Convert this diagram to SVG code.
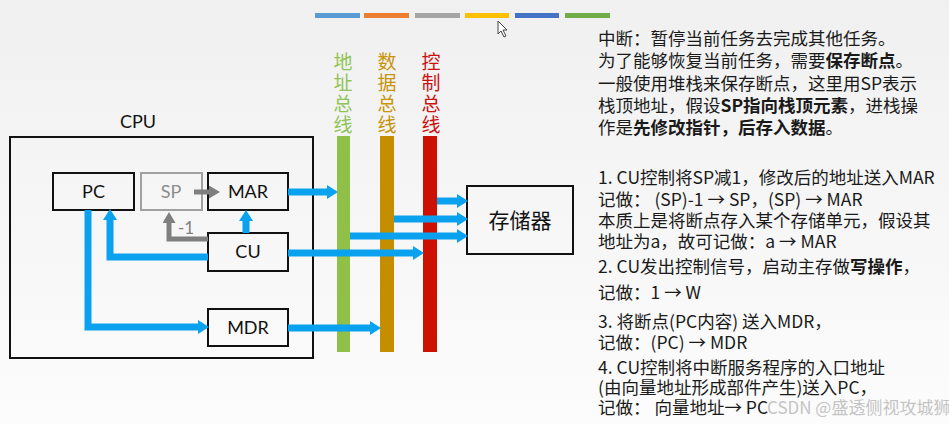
<svg xmlns="http://www.w3.org/2000/svg" width="949" height="424" viewBox="0 0 949 424">
<defs>
<linearGradient id="bg" x1="0" y1="0" x2="0" y2="1"><stop offset="0" stop-color="#f0f0f0"/><stop offset="1" stop-color="#fcfcfc"/></linearGradient>
<marker id="ab" markerUnits="userSpaceOnUse" markerWidth="11" markerHeight="14" refX="0" refY="7" orient="auto"><path d="M0,0 L11,7 L0,14 z" fill="#0aa2ee"/></marker>
<marker id="ag" markerUnits="userSpaceOnUse" markerWidth="11" markerHeight="13" refX="0" refY="6.5" orient="auto"><path d="M0,0 L11,6.5 L0,13 z" fill="#7f7f7f"/></marker>
<style>
.box{fill:none;stroke:#111;stroke-width:2}
.lbl{font-family:Lato,"Noto Sans",sans-serif;font-size:18px;fill:#111;text-anchor:middle}
.blue{fill:none;stroke:#0aa2ee;stroke-width:7}
.gray{fill:none;stroke:#7f7f7f;stroke-width:5}
.t{font-family:"Noto Sans CJK SC",sans-serif;font-size:17.5px;fill:#1a1a1a}
.b{font-weight:bold}
.vbus{font-family:"Noto Sans CJK SC",sans-serif;font-size:19px;writing-mode:vertical-rl;letter-spacing:2px}
</style>
</defs>
<rect width="949" height="424" fill="url(#bg)"/>
<g id="tabs">
<rect x="315" y="13" width="45" height="5" fill="#5b9bd5"/>
<rect x="364" y="13" width="45" height="5" fill="#ed7d31"/>
<rect x="415" y="13" width="45" height="5" fill="#a5a5a5"/>
<rect x="465" y="13" width="44" height="5" fill="#ffc000"/>
<rect x="515" y="13" width="44" height="5" fill="#4472c4"/>
<rect x="565" y="13" width="45" height="5" fill="#70ad47"/>
</g>
<path d="M498,21 L498,34 L501,31 L504,37 L506,36 L503,30 L507,30 z" fill="#fff" stroke="#444" stroke-width="1"/>
<g id="cpu">
<rect x="10" y="137" width="303" height="221" class="box"/>
<text x="138" y="128" class="lbl">CPU</text>
</g>
<g id="pc"><rect x="53" y="173" width="81" height="37" class="box"/><text x="93.5" y="198" class="lbl">PC</text></g>
<g id="sp"><rect x="141" y="173" width="61" height="37" fill="none" stroke="#a0a0a0" stroke-width="2"/><text x="171" y="198" class="lbl" style="fill:#8c8c8c">SP</text></g>
<g id="mar"><rect x="208" y="173" width="80" height="37" class="box"/><text x="248" y="198" class="lbl">MAR</text></g>
<g id="cu"><rect x="208" y="233" width="80" height="38" class="box"/><text x="248" y="258" class="lbl">CU</text></g>
<g id="mdr"><rect x="208" y="309" width="80" height="37" class="box"/><text x="248" y="334" class="lbl">MDR</text></g>
<g id="mem"><rect x="467" y="186" width="106" height="68" class="box"/><text x="520" y="228" font-family="'Noto Sans CJK SC',sans-serif" font-size="21" fill="#111" text-anchor="middle">存储器</text></g>
<g id="buses">
<rect x="337" y="136" width="13" height="216" fill="#8fc149"/>
<rect x="380" y="136" width="14" height="216" fill="#c48e00"/>
<rect x="423" y="136" width="14" height="216" fill="#cc1100"/>
<text x="343" y="52" class="vbus" fill="#8fc454">地址总线</text>
<text x="387" y="52" class="vbus" fill="#c8940a">数据总线</text>
<text x="431" y="52" class="vbus" fill="#cc1111">控制总线</text>
</g>
<g id="connectors">
<path d="M194,192 L209,192" class="gray" marker-end="url(#ag)"/>
<path d="M208,239 L169,239 L169,223" class="gray" marker-end="url(#ag)"/>
<text x="178" y="234" font-family="Lato,'Noto Sans',sans-serif" font-size="17" fill="#808080">-1</text>
<path d="M88,210 L88,327 L198,327" class="blue" marker-end="url(#ab)"/>
<path d="M208,257 L110,257 L110,220" class="blue" marker-end="url(#ab)"/>
<path d="M246,233 L246,221" class="blue" marker-end="url(#ab)"/>
<path d="M288,192 L327,192" class="blue" marker-end="url(#ab)"/>
<path d="M288,253 L413,253" class="blue" marker-end="url(#ab)"/>
<path d="M288,328 L370,328" class="blue" marker-end="url(#ab)"/>
<path d="M437,201 L457,201" class="blue" marker-end="url(#ab)"/>
<path d="M394,219 L457,219" class="blue" marker-end="url(#ab)"/>
<path d="M350,236 L457,236" class="blue" marker-end="url(#ab)"/>
</g>
<g id="notes">
<text x="598" y="45" class="t">中断：暂停当前任务去完成其他任务。</text>
<text x="598" y="67" class="t">为了能够恢复当前任务，需要<tspan class="b">保存断点</tspan>。</text>
<text x="598" y="90" class="t">一般使用堆栈来保存断点，这里用SP表示</text>
<text x="598" y="112" class="t">栈顶地址，假设<tspan class="b">SP指向栈顶元素</tspan>，进栈操</text>
<text x="598" y="134" class="t">作是<tspan class="b">先修改指针，后存入数据</tspan>。</text>
<text x="598" y="184" class="t">1. CU控制将SP减1，修改后的地址送入MAR</text>
<text x="598" y="206" class="t">记做： (SP)-1 → SP，(SP) → MAR</text>
<text x="598" y="227" class="t">本质上是将断点存入某个存储单元，假设其</text>
<text x="598" y="248" class="t">地址为a，故可记做：a → MAR</text>
<text x="598" y="273" class="t">2. CU发出控制信号，启动主存做<tspan class="b">写操作</tspan>，</text>
<text x="598" y="299" class="t">记做：1 → W</text>
<text x="598" y="328" class="t">3. 将断点(PC内容) 送入MDR，</text>
<text x="598" y="349" class="t">记做：(PC) → MDR</text>
<text x="598" y="374" class="t">4. CU控制将中断服务程序的入口地址</text>
<text x="598" y="394" class="t">(由向量地址形成部件产生)送入PC，</text>
<text x="598" y="414" class="t">记做： 向量地址→ PC</text>
<text x="767" y="414" font-family="'Noto Sans CJK SC',sans-serif" font-size="17" fill="#c4c4c4">CSDN @盛透侧视攻城狮</text>
</g>
</svg>
